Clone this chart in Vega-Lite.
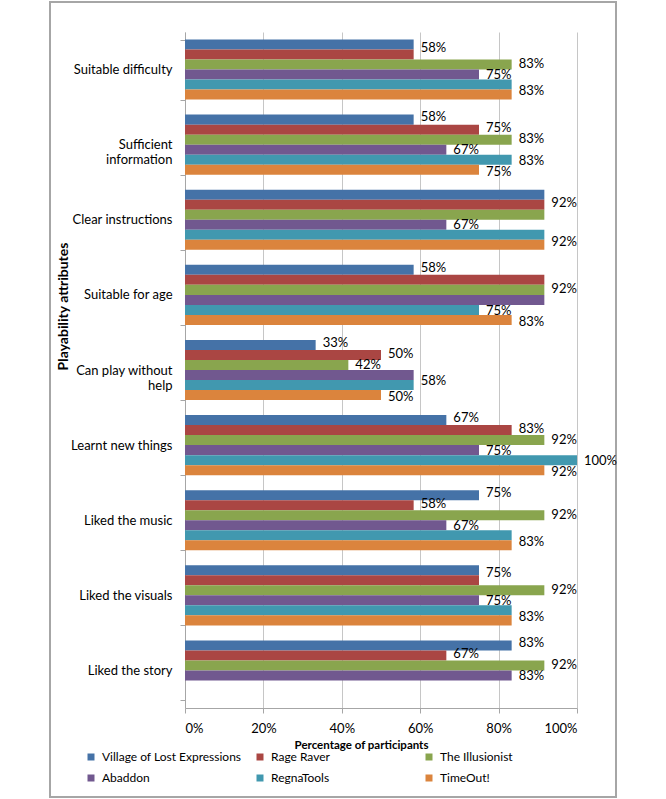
{
  "$schema": "https://vega.github.io/schema/vega-lite/v6.json",
  "width": 566,
  "height": 795,
  "autosize": {"type": "none"},
  "padding": {"left": 50, "top": 2, "right": 50, "bottom": 2},
  "background": "white",
  "config": {
    "view": {"stroke": "#A6A6A6", "strokeWidth": 2},
    "font": "Lato",
    "axis": {
      "labelFont": "Lato",
      "labelFontSize": 13,
      "labelColor": "#000000",
      "titleFont": "Lato",
      "titleFontSize": 12,
      "titleFontWeight": "bold",
      "titleColor": "#000000",
      "domainColor": "#A6A6A6",
      "tickColor": "#A6A6A6",
      "tickSize": 5
    }
  },
  "data": {
    "values": [
      {"attribute": "Suitable difficulty", "game": "Village of Lost Expressions", "value": 0.5833},
      {"attribute": "Suitable difficulty", "game": "Rage Raver", "value": 0.5833, "slot": 1.5},
      {"attribute": "Suitable difficulty", "game": "The Illusionist", "value": 0.8333, "slot": 3},
      {"attribute": "Suitable difficulty", "game": "Abaddon", "value": 0.75, "slot": 4},
      {"attribute": "Suitable difficulty", "game": "RegnaTools", "value": 0.8333, "slot": 5.5},
      {"attribute": "Suitable difficulty", "game": "TimeOut!", "value": 0.8333},

      {"attribute": "Sufficient information", "game": "Village of Lost Expressions", "value": 0.5833, "slot": 1},
      {"attribute": "Sufficient information", "game": "Rage Raver", "value": 0.75, "slot": 2},
      {"attribute": "Sufficient information", "game": "The Illusionist", "value": 0.8333, "slot": 3},
      {"attribute": "Sufficient information", "game": "Abaddon", "value": 0.6667, "slot": 4},
      {"attribute": "Sufficient information", "game": "RegnaTools", "value": 0.8333, "slot": 5},
      {"attribute": "Sufficient information", "game": "TimeOut!", "value": 0.75, "slot": 6},

      {"attribute": "Clear instructions", "game": "Village of Lost Expressions", "value": 0.9167},
      {"attribute": "Clear instructions", "game": "Rage Raver", "value": 0.9167, "slot": 2},
      {"attribute": "Clear instructions", "game": "The Illusionist", "value": 0.9167},
      {"attribute": "Clear instructions", "game": "Abaddon", "value": 0.6667, "slot": 4},
      {"attribute": "Clear instructions", "game": "RegnaTools", "value": 0.9167, "slot": 5.5},
      {"attribute": "Clear instructions", "game": "TimeOut!", "value": 0.9167},

      {"attribute": "Suitable for age", "game": "Village of Lost Expressions", "value": 0.5833, "slot": 1},
      {"attribute": "Suitable for age", "game": "Rage Raver", "value": 0.9167},
      {"attribute": "Suitable for age", "game": "The Illusionist", "value": 0.9167, "slot": 3},
      {"attribute": "Suitable for age", "game": "Abaddon", "value": 0.9167},
      {"attribute": "Suitable for age", "game": "RegnaTools", "value": 0.75, "slot": 5},
      {"attribute": "Suitable for age", "game": "TimeOut!", "value": 0.8333, "slot": 6},

      {"attribute": "Can play without help", "game": "Village of Lost Expressions", "value": 0.3333, "slot": 1},
      {"attribute": "Can play without help", "game": "Rage Raver", "value": 0.5, "slot": 2},
      {"attribute": "Can play without help", "game": "The Illusionist", "value": 0.4167, "slot": 3},
      {"attribute": "Can play without help", "game": "Abaddon", "value": 0.5833, "slot": 4.5},
      {"attribute": "Can play without help", "game": "RegnaTools", "value": 0.5833},
      {"attribute": "Can play without help", "game": "TimeOut!", "value": 0.5, "slot": 6},

      {"attribute": "Learnt new things", "game": "Village of Lost Expressions", "value": 0.6667, "slot": 1},
      {"attribute": "Learnt new things", "game": "Rage Raver", "value": 0.8333, "slot": 2},
      {"attribute": "Learnt new things", "game": "The Illusionist", "value": 0.9167, "slot": 3},
      {"attribute": "Learnt new things", "game": "Abaddon", "value": 0.75, "slot": 4},
      {"attribute": "Learnt new things", "game": "RegnaTools", "value": 1.0, "slot": 5},
      {"attribute": "Learnt new things", "game": "TimeOut!", "value": 0.9167, "slot": 6},

      {"attribute": "Liked the music", "game": "Village of Lost Expressions", "value": 0.75, "slot": 1},
      {"attribute": "Liked the music", "game": "Rage Raver", "value": 0.5833, "slot": 2},
      {"attribute": "Liked the music", "game": "The Illusionist", "value": 0.9167, "slot": 3},
      {"attribute": "Liked the music", "game": "Abaddon", "value": 0.6667, "slot": 4},
      {"attribute": "Liked the music", "game": "RegnaTools", "value": 0.8333, "slot": 5.5},
      {"attribute": "Liked the music", "game": "TimeOut!", "value": 0.8333},

      {"attribute": "Liked the visuals", "game": "Village of Lost Expressions", "value": 0.75, "slot": 1.5},
      {"attribute": "Liked the visuals", "game": "Rage Raver", "value": 0.75},
      {"attribute": "Liked the visuals", "game": "The Illusionist", "value": 0.9167, "slot": 3},
      {"attribute": "Liked the visuals", "game": "Abaddon", "value": 0.75, "slot": 4},
      {"attribute": "Liked the visuals", "game": "RegnaTools", "value": 0.8333, "slot": 5.5},
      {"attribute": "Liked the visuals", "game": "TimeOut!", "value": 0.8333},

      {"attribute": "Liked the story", "game": "Village of Lost Expressions", "value": 0.8333, "slot": 1},
      {"attribute": "Liked the story", "game": "Rage Raver", "value": 0.6667, "slot": 2},
      {"attribute": "Liked the story", "game": "The Illusionist", "value": 0.9167, "slot": 3},
      {"attribute": "Liked the story", "game": "Abaddon", "value": 0.8333, "slot": 4}
    ]
  },
  "layer": [
    {
      "mark": {"type": "bar"},
      "encoding": {
        "x": {
          "field": "value",
          "type": "quantitative",
          "scale": {"domain": [0, 1], "range": [135, 527], "nice": false, "zero": true},
          "axis": {
            "orient": "bottom",
            "offset": -89,
            "values": [0, 0.2, 0.4, 0.6, 0.8, 1],
            "format": ".0%",
            "grid": false,
            "labelPadding": 9,
            "title": "Percentage of participants",
            "titleFontSize": 11.5,
            "titlePadding": 4,
            "titleX": 311
          }
        },
        "y": {
          "field": "attribute",
          "type": "nominal",
          "sort": ["Suitable difficulty", "Sufficient information", "Clear instructions", "Suitable for age", "Can play without help", "Learnt new things", "Liked the music", "Liked the visuals", "Liked the story"],
          "scale": {"range": [30, 706], "paddingInner": 0.2, "paddingOuter": 0.1},
          "axis": {
            "orient": "left",
            "offset": -135,
            "tickBand": "extent",
            "grid": false,
            "labelPadding": 8,
            "labelLineHeight": 15,
            "labelExpr": "datum.value == 'Sufficient information' ? ['Sufficient', 'information'] : datum.value == 'Can play without help' ? ['Can play without', 'help'] : datum.value",
            "title": "Playability attributes",
            "titleFontSize": 14,
            "titleAngle": 270,
            "titleAlign": "center",
            "titleBaseline": "bottom",
            "titleX": -115,
            "titleY": 304
          }
        },
        "yOffset": {
          "field": "game",
          "type": "nominal",
          "scale": {"domain": ["Village of Lost Expressions", "Rage Raver", "The Illusionist", "Abaddon", "RegnaTools", "TimeOut!"]}
        },
        "color": {
          "field": "game",
          "type": "nominal",
          "scale": {
            "domain": ["Village of Lost Expressions", "Rage Raver", "The Illusionist", "Abaddon", "RegnaTools", "TimeOut!"],
            "range": ["#4572A7", "#AA4643", "#89A54E", "#71588F", "#4198AF", "#DB843D"]
          },
          "legend": {
            "orient": "none",
            "legendX": 35,
            "legendY": 749,
            "columns": 3,
            "direction": "horizontal",
            "gridAlign": "all",
            "title": null,
            "padding": 0,
            "symbolType": "square",
            "symbolSize": 49,
            "symbolStrokeWidth": 0,
            "labelFont": "Lato",
            "labelFontSize": 12,
            "labelColor": "#000000",
            "labelOffset": 5,
            "labelLimit": 300,
            "columnPadding": 12,
            "rowPadding": 9
          }
        }
      }
    },
    {
      "transform": [{"filter": "isValid(datum.slot)"}],
      "mark": {"type": "text", "align": "left", "baseline": "middle", "dx": 7, "font": "Lato", "fontSize": 13, "color": "#000000"},
      "encoding": {
        "x": {
          "field": "value",
          "type": "quantitative",
          "axis": {
            "orient": "top",
            "offset": 0,
            "values": [0, 0.2, 0.4, 0.6, 0.8, 1],
            "grid": true,
            "gridColor": "#C6C6C6",
            "domain": false,
            "ticks": false,
            "labels": false,
            "title": null
          }
        },
        "y": {"field": "attribute", "type": "nominal", "sort": ["Suitable difficulty", "Sufficient information", "Clear instructions", "Suitable for age", "Can play without help", "Learnt new things", "Liked the music", "Liked the visuals", "Liked the story"]},
        "yOffset": {
          "field": "slot",
          "type": "ordinal",
          "scale": {"domain": [1, 1.5, 2, 2.5, 3, 3.5, 4, 4.5, 5, 5.5, 6], "paddingInner": 0, "paddingOuter": 0.5}
        },
        "text": {"field": "value", "type": "quantitative", "format": ".0%"}
      }
    }
  ],
  "resolve": {"scale": {"yOffset": "independent"}, "axis": {"x": "independent"}}
}
